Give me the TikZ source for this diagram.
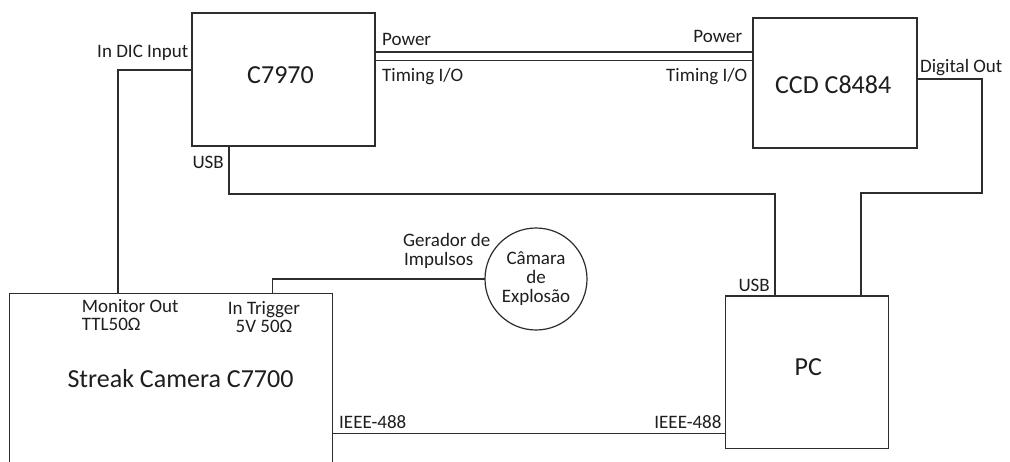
\documentclass[tikz,border=0pt]{standalone}
\usepackage{fontspec}
\setmainfont{Carlito}
\definecolor{ln}{RGB}{45,45,45}
\definecolor{tx}{RGB}{30,30,30}
\begin{document}
\begin{tikzpicture}[x=1pt,y=-1pt,
  box/.style={draw=ln, line width=1.3pt, rectangle, inner sep=0pt, outer sep=0pt},
  wire/.style={draw=ln, line width=1.2pt},
  lbl/.style={font=\fontsize{19}{19}\selectfont, text=tx, inner sep=0pt},
  big/.style={font=\fontsize{26}{28}\selectfont, text=tx, inner sep=0pt}]
\useasboundingbox (0,0) rectangle (1010,461);
\clip (0,0) rectangle (1010,461);
\fill[white] (0,0) rectangle (1010,461);
% boxes
\node[box, minimum width=183pt, minimum height=133pt] (c7970) at (283.5,79.5) {};
\node[box, minimum width=164pt, minimum height=130pt] (ccd) at (835,83) {};
\node[box, minimum width=163pt, minimum height=152.3pt] (pc) at (806.8,372.15) {};
\node[box, minimum width=323.4pt, minimum height=171pt] (streak) at (171,378.8) {};
\node[circle, draw=ln, line width=1.2pt, minimum size=102pt, inner sep=0pt, outer sep=0pt,
      align=center, font=\fontsize{19}{19}\selectfont, text=tx] (circ) at (536,279) {Câmara\\de\\Explosão};
% box titles
\node[big] (t1) at (280.5,75.3) {C7970};
\node[big] (t2) at (833.2,84.5) {CCD C8484};
\node[big] (t3) at (180.5,378.3) {Streak Camera C7700};
\node[big] (t4) at (808.3,367) {PC};
% connectors
\draw[wire] (c7970.west |- 0,70) -| (streak.north -| 118,0);
\draw[wire] (c7970.south -| 229,0) |- (775,194) -- (pc.north -| 775,0);
\draw[wire] (c7970.east |- 0,52) -- (ccd.west |- 0,52);
\draw[wire] (c7970.east |- 0,60.7) -- (ccd.west |- 0,60.7);
\draw[wire] (ccd.east |- 0,79) -| (982,193) -| (pc.north -| 861,0);
\draw[wire] (streak.north -| 272.3,0) |- (circ.west);
\draw[wire] (streak.east |- 0,433.3) -- (pc.west |- 0,433.3);
% port labels
\node[lbl, anchor=base east] (l1) at (188.5,57.5) {In DIC Input};
\node[lbl, anchor=base west] (l2) at (382,45) {Power};
\node[lbl, anchor=base east] (l3) at (742.5,42.5) {Power};
\node[lbl, anchor=base west] (l4) at (382,81) {Timing I/O};
\node[lbl, anchor=base east] (l5) at (747.5,81) {Timing I/O};
\node[lbl, anchor=base west] (l6) at (192.3,168) {USB};
\node[lbl, anchor=base west] (l7) at (920,72.7) {Digital Out};
\node[lbl, anchor=base east] (l8) at (770,291) {USB};
\node[lbl, anchor=base west] (l9) at (403,246) {Gerador de};
\node[lbl, anchor=base west] (l10) at (404,265) {Impulsos};
\node[lbl, anchor=north west, align=left, font=\fontsize{19}{18.2}\selectfont] (l11) at (81.7,299) {Monitor Out\\TTL50Ω};
\node[lbl, anchor=north, align=center, font=\fontsize{19}{18.4}\selectfont] (l13) at (264,301.1) {In Trigger\\5V 50Ω};
\node[lbl, anchor=base west] (l15) at (339,428.3) {IEEE-488};
\node[lbl, anchor=base east] (l16) at (721.7,428) {IEEE-488};
\end{tikzpicture}
\end{document}
